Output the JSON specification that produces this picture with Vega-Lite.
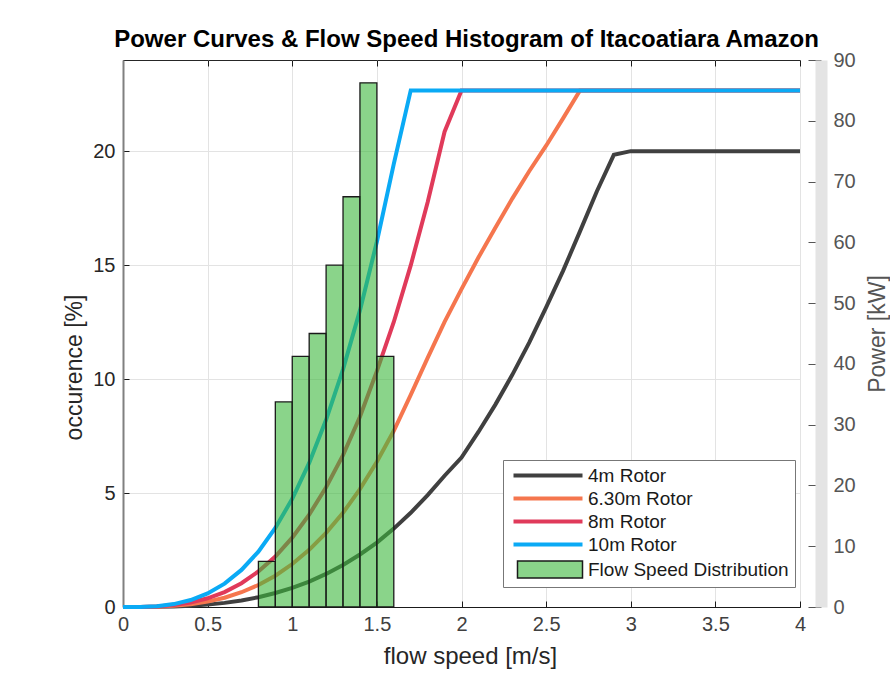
{
  "$schema": "https://vega.github.io/schema/vega-lite/v6.json",
  "width": 677,
  "height": 547,
  "autosize": "none",
  "padding": {"left": 123, "top": 60, "right": 90, "bottom": 68},
  "background": "white",
  "config": {
    "font": "Liberation Sans",
    "view": {"stroke": "#262626", "strokeWidth": 1}
  },
  "title": {
    "text": "Power Curves & Flow Speed Histogram of Itacoatiara Amazon",
    "fontSize": 24,
    "fontWeight": "bold",
    "color": "#000000",
    "anchor": "middle",
    "offset": 3,
    "dy": 5,
    "dx": 5
  },
  "datasets": {
    "curves": [
      {"v": 0, "r": "4m Rotor", "p": 0}, {"v": 0.1, "r": "4m Rotor", "p": 0.003}, {"v": 0.2, "r": "4m Rotor", "p": 0.025},
      {"v": 0.3, "r": "4m Rotor", "p": 0.085}, {"v": 0.4, "r": "4m Rotor", "p": 0.2}, {"v": 0.5, "r": "4m Rotor", "p": 0.39},
      {"v": 0.6, "r": "4m Rotor", "p": 0.68}, {"v": 0.7, "r": "4m Rotor", "p": 1.08}, {"v": 0.8, "r": "4m Rotor", "p": 1.61},
      {"v": 0.9, "r": "4m Rotor", "p": 2.3}, {"v": 1.0, "r": "4m Rotor", "p": 3.15}, {"v": 1.1, "r": "4m Rotor", "p": 4.19},
      {"v": 1.2, "r": "4m Rotor", "p": 5.44}, {"v": 1.3, "r": "4m Rotor", "p": 6.92}, {"v": 1.4, "r": "4m Rotor", "p": 8.64},
      {"v": 1.5, "r": "4m Rotor", "p": 10.6}, {"v": 1.6, "r": "4m Rotor", "p": 12.9}, {"v": 1.7, "r": "4m Rotor", "p": 15.5},
      {"v": 1.8, "r": "4m Rotor", "p": 18.4}, {"v": 1.9, "r": "4m Rotor", "p": 21.6}, {"v": 2.0, "r": "4m Rotor", "p": 24.6},
      {"v": 2.1, "r": "4m Rotor", "p": 28.8}, {"v": 2.2, "r": "4m Rotor", "p": 33.3}, {"v": 2.3, "r": "4m Rotor", "p": 38.2},
      {"v": 2.4, "r": "4m Rotor", "p": 43.5}, {"v": 2.5, "r": "4m Rotor", "p": 49.3}, {"v": 2.6, "r": "4m Rotor", "p": 55.3},
      {"v": 2.7, "r": "4m Rotor", "p": 61.8}, {"v": 2.8, "r": "4m Rotor", "p": 68.4}, {"v": 2.9, "r": "4m Rotor", "p": 74.4},
      {"v": 3.0, "r": "4m Rotor", "p": 75}, {"v": 3.5, "r": "4m Rotor", "p": 75}, {"v": 4.0, "r": "4m Rotor", "p": 75},

      {"v": 0, "r": "6.30m Rotor", "p": 0}, {"v": 0.1, "r": "6.30m Rotor", "p": 0.007}, {"v": 0.2, "r": "6.30m Rotor", "p": 0.06},
      {"v": 0.3, "r": "6.30m Rotor", "p": 0.19}, {"v": 0.4, "r": "6.30m Rotor", "p": 0.45}, {"v": 0.5, "r": "6.30m Rotor", "p": 0.88},
      {"v": 0.6, "r": "6.30m Rotor", "p": 1.53}, {"v": 0.7, "r": "6.30m Rotor", "p": 2.43}, {"v": 0.8, "r": "6.30m Rotor", "p": 3.62},
      {"v": 0.9, "r": "6.30m Rotor", "p": 5.15}, {"v": 1.0, "r": "6.30m Rotor", "p": 7.07}, {"v": 1.1, "r": "6.30m Rotor", "p": 9.41},
      {"v": 1.2, "r": "6.30m Rotor", "p": 12.2}, {"v": 1.3, "r": "6.30m Rotor", "p": 15.5}, {"v": 1.4, "r": "6.30m Rotor", "p": 19.4},
      {"v": 1.5, "r": "6.30m Rotor", "p": 23.9}, {"v": 1.6, "r": "6.30m Rotor", "p": 29.0}, {"v": 1.7, "r": "6.30m Rotor", "p": 34.9},
      {"v": 1.8, "r": "6.30m Rotor", "p": 41.0}, {"v": 1.9, "r": "6.30m Rotor", "p": 46.9}, {"v": 2.0, "r": "6.30m Rotor", "p": 52.3},
      {"v": 2.1, "r": "6.30m Rotor", "p": 57.5}, {"v": 2.2, "r": "6.30m Rotor", "p": 62.4}, {"v": 2.3, "r": "6.30m Rotor", "p": 67.2},
      {"v": 2.4, "r": "6.30m Rotor", "p": 71.7}, {"v": 2.5, "r": "6.30m Rotor", "p": 75.9}, {"v": 2.6, "r": "6.30m Rotor", "p": 80.4},
      {"v": 2.7, "r": "6.30m Rotor", "p": 85}, {"v": 3.5, "r": "6.30m Rotor", "p": 85}, {"v": 4.0, "r": "6.30m Rotor", "p": 85},

      {"v": 0, "r": "8m Rotor", "p": 0}, {"v": 0.1, "r": "8m Rotor", "p": 0.011}, {"v": 0.2, "r": "8m Rotor", "p": 0.09},
      {"v": 0.3, "r": "8m Rotor", "p": 0.31}, {"v": 0.4, "r": "8m Rotor", "p": 0.73}, {"v": 0.5, "r": "8m Rotor", "p": 1.43},
      {"v": 0.6, "r": "8m Rotor", "p": 2.46}, {"v": 0.7, "r": "8m Rotor", "p": 3.91}, {"v": 0.8, "r": "8m Rotor", "p": 5.84},
      {"v": 0.9, "r": "8m Rotor", "p": 8.31}, {"v": 1.0, "r": "8m Rotor", "p": 11.4}, {"v": 1.1, "r": "8m Rotor", "p": 15.2},
      {"v": 1.2, "r": "8m Rotor", "p": 19.7}, {"v": 1.3, "r": "8m Rotor", "p": 25.0}, {"v": 1.4, "r": "8m Rotor", "p": 31.3},
      {"v": 1.5, "r": "8m Rotor", "p": 38.8}, {"v": 1.6, "r": "8m Rotor", "p": 46.9}, {"v": 1.7, "r": "8m Rotor", "p": 56.2},
      {"v": 1.8, "r": "8m Rotor", "p": 66.6}, {"v": 1.9, "r": "8m Rotor", "p": 78.2}, {"v": 2.0, "r": "8m Rotor", "p": 85},
      {"v": 3.0, "r": "8m Rotor", "p": 85}, {"v": 4.0, "r": "8m Rotor", "p": 85},

      {"v": 0, "r": "10m Rotor", "p": 0}, {"v": 0.1, "r": "10m Rotor", "p": 0.018}, {"v": 0.2, "r": "10m Rotor", "p": 0.14},
      {"v": 0.3, "r": "10m Rotor", "p": 0.48}, {"v": 0.4, "r": "10m Rotor", "p": 1.14}, {"v": 0.5, "r": "10m Rotor", "p": 2.23},
      {"v": 0.6, "r": "10m Rotor", "p": 3.84}, {"v": 0.7, "r": "10m Rotor", "p": 6.1}, {"v": 0.8, "r": "10m Rotor", "p": 9.1},
      {"v": 0.9, "r": "10m Rotor", "p": 13.0}, {"v": 1.0, "r": "10m Rotor", "p": 17.8}, {"v": 1.1, "r": "10m Rotor", "p": 23.7},
      {"v": 1.2, "r": "10m Rotor", "p": 30.8}, {"v": 1.3, "r": "10m Rotor", "p": 39.1}, {"v": 1.4, "r": "10m Rotor", "p": 48.8},
      {"v": 1.5, "r": "10m Rotor", "p": 60.1}, {"v": 1.6, "r": "10m Rotor", "p": 72.9}, {"v": 1.7, "r": "10m Rotor", "p": 85},
      {"v": 3.0, "r": "10m Rotor", "p": 85}, {"v": 4.0, "r": "10m Rotor", "p": 85}
    ],
    "hist": [
      {"lo": 0.8, "hi": 0.9, "pct": 2},
      {"lo": 0.9, "hi": 1.0, "pct": 9},
      {"lo": 1.0, "hi": 1.1, "pct": 11},
      {"lo": 1.1, "hi": 1.2, "pct": 12},
      {"lo": 1.2, "hi": 1.3, "pct": 15},
      {"lo": 1.3, "hi": 1.4, "pct": 18},
      {"lo": 1.4, "hi": 1.5, "pct": 23},
      {"lo": 1.5, "hi": 1.6, "pct": 11}
    ]
  },
  "layer": [
    {
      "data": {"name": "curves"},
      "mark": {"type": "line", "strokeWidth": 4, "strokeCap": "butt", "strokeJoin": "miter"},
      "encoding": {
        "x": {
          "field": "v", "type": "quantitative",
          "scale": {"domain": [0, 4], "nice": false, "zero": false},
          "axis": {
            "orient": "bottom",
            "values": [0, 0.5, 1, 1.5, 2, 2.5, 3, 3.5, 4],
            "format": "~g",
            "labelFlush": false,
            "grid": true, "gridColor": "#e3e3e3", "gridWidth": 1,
            "domainColor": "#1a1a1a", "domainWidth": 1,
            "tickSize": -6, "tickColor": "#1a1a1a",
            "labelFontSize": 20, "labelColor": "#404040", "labelPadding": 13,
            "title": "flow speed [m/s]", "titleFontSize": 24, "titleFontWeight": "normal",
            "titleColor": "#262626", "titlePadding": 10, "titleX": 347
          }
        },
        "y": {
          "field": "p", "type": "quantitative",
          "scale": {"domain": [0, 90], "nice": false},
          "axis": {
            "orient": "right",
            "offset": 21,
            "values": [0, 10, 20, 30, 40, 50, 60, 70, 80, 90],
            "labelFlush": false,
            "grid": false,
            "domainColor": "#e4e4e4", "domainWidth": 12,
            "tickSize": -13, "tickColor": "#555555", "tickWidth": 1,
            "labelFontSize": 20, "labelColor": "#555555", "labelPadding": 25,
            "title": "Power [kW]", "titleFontSize": 23, "titleFontWeight": "normal",
            "titleColor": "#555555", "titleAngle": 270, "titleBaseline": "top", "titlePadding": 11
          }
        },
        "stroke": {
          "field": "r", "type": "nominal",
          "scale": {
            "domain": ["4m Rotor", "6.30m Rotor", "8m Rotor", "10m Rotor", "Flow Speed Distribution"],
            "range": ["#404040", "#f5764e", "#e03a5a", "#0aaaf5", "#1a1a1a"]
          },
          "legend": {
            "orient": "none",
            "legendX": 380,
            "legendY": 400,
            "title": null,
            "strokeColor": "#777777",
            "fillColor": "white",
            "padding": 6,
            "labelFontSize": 19,
            "labelColor": "#1a1a1a",
            "labelLimit": 400,
            "labelOffset": 60,
            "rowPadding": 3,
            "symbolSize": 100,
            "symbolType": "M-1.0,0H12.8",
            "encode": {
              "symbols": {
                "update": {
                  "shape": {"signal": "datum.value === 'Flow Speed Distribution' ? 'M-0.2,-1.7H12.8V1.7H-0.2Z' : 'M-1.0,0H12.8'"},
                  "fill": {"signal": "datum.value === 'Flow Speed Distribution' ? '#3cb73c' : 'transparent'"},
                  "fillOpacity": {"signal": "datum.value === 'Flow Speed Distribution' ? 0.6 : 0"},
                  "strokeWidth": {"signal": "datum.value === 'Flow Speed Distribution' ? 1.5 : 4"},
                  "opacity": {"value": 1}
                }
              }
            }
          }
        }
      }
    },
    {
      "data": {"name": "hist"},
      "mark": {"type": "rect", "fill": "#3cb73c", "strokeWidth": 1.3, "fillOpacity": 0.6},
      "encoding": {
        "x": {
          "field": "lo", "type": "quantitative",
          "scale": {"domain": [0, 4], "nice": false, "zero": false},
          "axis": {
            "orient": "top",
            "values": [0, 0.5, 1, 1.5, 2, 2.5, 3, 3.5, 4],
            "labels": false, "grid": false, "domain": false,
            "tickSize": -6, "tickColor": "#1a1a1a", "title": null
          }
        },
        "x2": {"field": "hi"},
        "y": {
          "field": "pct", "type": "quantitative",
          "scale": {"domain": [0, 24], "nice": false},
          "axis": {
            "orient": "left",
            "values": [0, 5, 10, 15, 20],
            "labelFlush": false,
            "grid": true, "gridColor": "#e3e3e3", "gridWidth": 1,
            "domainColor": "#808080", "domainWidth": 2,
            "tickSize": -6, "tickColor": "#1a1a1a",
            "labelFontSize": 20, "labelColor": "#262626", "labelPadding": 14,
            "title": "occurence [%]", "titleFontSize": 23, "titleFontWeight": "normal",
            "titleColor": "#262626", "titlePadding": 6, "titleY": 307
          }
        },
        "y2": {"datum": 0},
        "stroke": {"datum": "Flow Speed Distribution"}
      }
    }
  ],
  "resolve": {"scale": {"y": "independent"}, "axis": {"x": "independent", "y": "independent"}}
}
